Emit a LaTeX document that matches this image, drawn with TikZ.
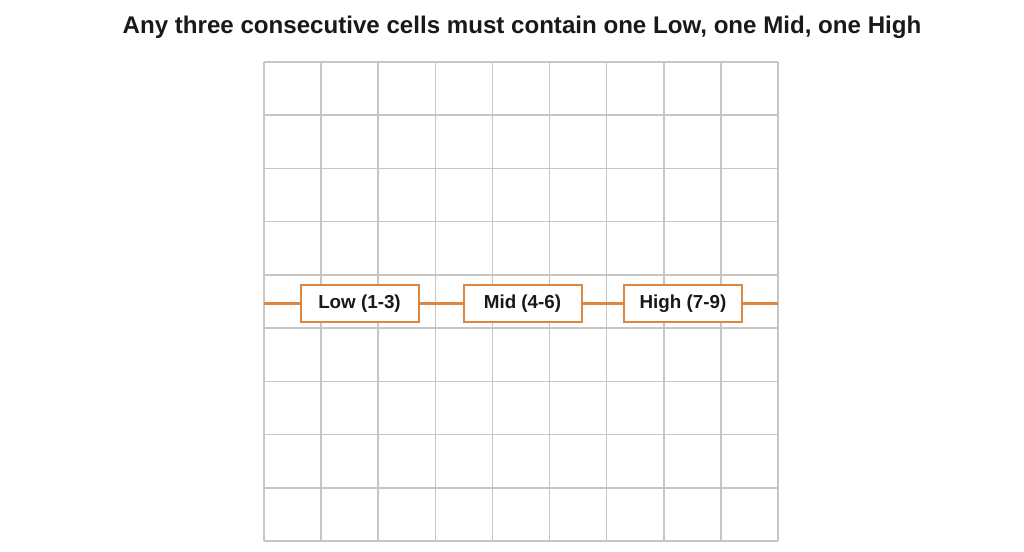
\documentclass[tikz,border=0pt]{standalone}
\usepackage{fontspec}
\setmainfont{Liberation Sans}
\begin{document}
\begin{tikzpicture}[x=1pt,y=-1pt,
  gridline/.style={draw=gridgray,line width=1.5pt},
  link/.style={draw=orangeC,line width=2.4pt},
  band/.style={draw=orangeC,line width=2pt,fill=white,minimum width=118pt,minimum height=37pt,inner sep=0pt,font=\fontsize{18.8}{22}\selectfont\bfseries,text=black!90}]
\definecolor{gridgray}{HTML}{C6C6C6}
\definecolor{orangeC}{HTML}{DE8740}
\useasboundingbox[fill=white] (0,0) rectangle (1024,551);
\node[font=\fontsize{24.1}{28}\selectfont\bfseries,text=black!90] (title) at (522,27.5) {Any three consecutive cells must contain one Low, one Mid, one High};
\foreach \i in {0,...,9}{
  \draw[gridline] ({264+\i*57.11},62) -- ({264+\i*57.11},541);
  \draw[gridline] (264,{62+\i*53.22}) -- (778,{62+\i*53.22});
}
\coordinate (lstart) at (264,303.5);
\coordinate (lend) at (778,303.5);
\node[band] (low) at (359.5,303.5) {Low (1-3)};
\node[band] (mid) at (522.5,303.5) {Mid (4-6)};
\node[band] (high) at (683,303.5) {High (7-9)};
\draw[link] (lstart) -- (low.west);
\draw[link] (low.east) -- (mid.west);
\draw[link] (mid.east) -- (high.west);
\draw[link] (high.east) -- (lend);
\end{tikzpicture}
\end{document}
